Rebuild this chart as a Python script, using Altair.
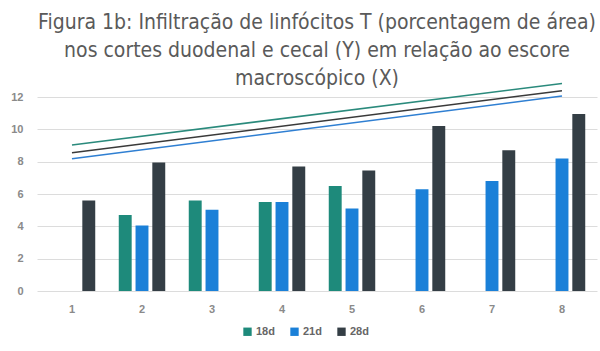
import altair as alt
import pandas as pd

categories = ["1", "2", "3", "4", "5", "6", "7", "8"]
series = ["18d", "21d", "28d"]
v18 = [None, 4.7, 5.6, 5.5, 6.5, None, None, None]
v21 = [None, 4.05, 5.03, 5.5, 5.1, 6.3, 6.8, 8.2]
v28 = [5.6, 7.95, None, 7.7, 7.45, 10.2, 8.7, 10.95]

trend_start = [9.03, 8.18, 8.55]
trend_end = [12.84, 12.06, 12.39]
trend_colors = ["#2a8a7c", "#2f7fd2", "#3a3a3a"]
bar_colors = ["#1e8a7b", "#1a80d8", "#343e45"]
y_ticks = [0, 2, 4, 6, 8, 10, 12]

rows = []
for s, vals in zip(series, [v18, v21, v28]):
    for c, v in zip(categories, vals):
        if v is not None:
            rows.append({"cat": c, "serie": s, "valor": v})
bars_df = pd.DataFrame(rows)

trows = []
for s, a, b in zip(series, trend_start, trend_end):
    trows.append({"cat": categories[0], "serie": s, "valor": a})
    trows.append({"cat": categories[-1], "serie": s, "valor": b})
trend_df = pd.DataFrame(trows)

xscale = alt.Scale(domain=categories, paddingInner=0.336, paddingOuter=0.168)
yscale = alt.Scale(domain=[0, 12])

lab_font = "Liberation Sans"

xaxis = alt.Axis(labelAngle=0, labelFont=lab_font, labelFontSize=11,
                 labelFontWeight="bold", labelColor="#8a8a8a",
                 labelPadding=12, ticks=False, domain=False, grid=False)
yaxis = alt.Axis(values=y_ticks, labelFont=lab_font,
                 labelFontSize=11, labelFontWeight="bold",
                 labelColor="#8a8a8a", labelPadding=14, ticks=False,
                 domain=False, grid=True, gridColor="#dcdcdc")

bars = alt.Chart(bars_df).mark_bar().encode(
    x=alt.X("cat:N", scale=xscale, title=None, axis=xaxis),
    xOffset=alt.XOffset("serie:N", scale=alt.Scale(domain=series, paddingInner=0.23)),
    y=alt.Y("valor:Q", scale=yscale, title=None, axis=yaxis),
    color=alt.Color("serie:N", scale=alt.Scale(domain=series, range=bar_colors),
                    legend=alt.Legend(title=None, orient="none", direction="horizontal",
                                      legendX=205, legendY=229, symbolType="square",
                                      symbolSize=70, symbolStrokeWidth=0,
                                      labelFont=lab_font, labelFontSize=11,
                                      labelFontWeight="bold", labelColor="#666666",
                                      columnPadding=14, symbolOffset=0, labelOffset=3)),
)

lines = alt.Chart(trend_df).mark_line(strokeWidth=1.6).encode(
    x=alt.X("cat:N", scale=xscale, title=None, axis=xaxis),
    y=alt.Y("valor:Q", scale=yscale, title=None, axis=yaxis),
    color=alt.Color("serie:N", scale=alt.Scale(domain=series, range=trend_colors),
                    legend=None),
    detail="serie:N",
)

chart = alt.layer(bars, lines).resolve_scale(color="independent").properties(
    width=560,
    height=194,
    autosize=alt.AutoSizeParams(type="none"),
    padding={"left": 37, "top": 97, "right": 3, "bottom": 60},
    title=alt.TitleParams(
        text=["Figura 1b: Infiltração de linfócitos T (porcentagem de área)",
              "nos cortes duodenal e cecal (Y) em relação ao escore",
              "macroscópico (X)"],
        anchor="middle", font="DejaVu Sans Condensed, sans-serif",
        fontSize=21, fontWeight="normal", color="#5a5a5a", lineHeight=28,
        offset=8, dy=17,
    ),
).configure_view(stroke=None)

chart.save("out.html", embed_options={"renderer": "svg", "actions": False})
